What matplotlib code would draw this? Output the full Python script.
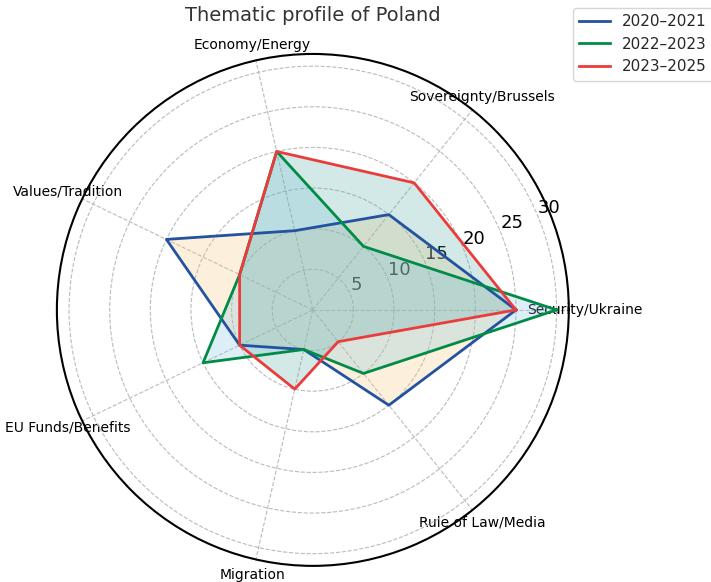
import numpy as np
import matplotlib
matplotlib.use("Agg")
import matplotlib.pyplot as plt

categories = ["Security/Ukraine", "Sovereignty/Brussels", "Economy/Energy",
              "Values/Tradition", "EU Funds/Benefits", "Migration", "Rule of Law/Media"]
periods = ["2020\u20132021", "2022\u20132023", "2023\u20132025"]
vals_2020_2021 = [25, 15, 10, 20, 10, 5, 15]
vals_2022_2023 = [30, 10, 20, 10, 15, 5, 10]
vals_2023_2025 = [25, 20, 20, 10, 10, 10, 5]
r_ticks = [5, 10, 15, 20, 25, 30]

line_colors = ["#2352a0", "#008c46", "#eb3c3c"]
fill_colors = ["#f7c77b", "#7bbfdf", "#53aba3"]

plt.rcParams['text.color'] = '#262626'

n = len(categories)
angles = np.linspace(0, 2 * np.pi, n, endpoint=False)

fig = plt.figure(figsize=(7.11, 5.82), dpi=100)
ax = fig.add_axes([0.080, 0.0275, 0.720, 0.880], polar=True)

series = [vals_2020_2021, vals_2022_2023, vals_2023_2025]
for vals, lab, lc, fc in zip(series, periods, line_colors, fill_colors):
    a = np.append(angles, angles[0])
    v = np.append(vals, vals[0])
    ax.fill(a, v, color=fc, alpha=0.25, zorder=2)
    ax.plot(a, v, color=lc, linewidth=2, label=lab, zorder=3)

ax.set_xticks(angles)
ax.set_xticklabels(categories, fontsize=10)
ax.tick_params(axis='x', pad=1)
ax.set_yticks(r_ticks)
ax.set_yticklabels([str(t) for t in r_ticks], fontsize=13, color='black')
ax.set_ylim(0, 31.5)
ax.grid(True, linestyle='--', color='#bbbbbb', linewidth=0.8)
ax.spines['polar'].set_linewidth(1.5)
ax.set_title("Thematic profile of Poland", fontsize=14, color='#333333', pad=24)

fig.legend(loc='upper left', bbox_to_anchor=(573 / 711, 1 - 8 / 582),
           borderaxespad=0, fontsize=11, frameon=True)

fig.savefig("out.png", dpi=100)
